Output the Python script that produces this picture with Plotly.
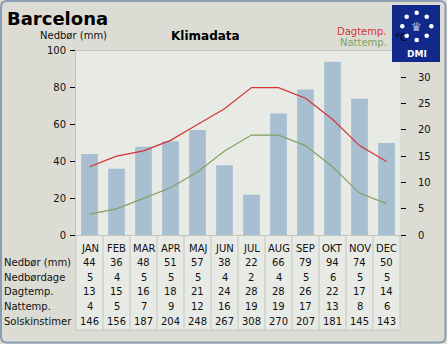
import plotly.graph_objects as go

W, H = 447, 344
months = ["JAN", "FEB", "MAR", "APR", "MAJ", "JUN", "JUL", "AUG", "SEP", "OKT", "NOV", "DEC"]
nedbor = [44, 36, 48, 51, 57, 38, 22, 66, 79, 94, 74, 50]
nedbordage = [5, 4, 5, 5, 5, 4, 2, 4, 5, 6, 5, 5]
dagtemp = [13, 15, 16, 18, 21, 24, 28, 28, 26, 22, 17, 14]
nattemp = [4, 5, 7, 9, 12, 16, 19, 19, 17, 13, 8, 6]
solskin = [146, 156, 187, 204, 248, 267, 308, 270, 207, 181, 145, 143]
row_labels = ["Nedbør (mm)", "Nedbørdage", "Dagtemp.", "Nattemp.", "Solskinstimer"]
left_ticks = [0, 20, 40, 60, 80, 100]
right_ticks = [0, 5, 10, 15, 20, 25, 30]

FONT = "DejaVu Sans"
BG = "#dcdcd4"
PLOT_BG = "#e8eae5"
GRID = "#c4c6bd"
RED = "#d43434"
GREEN = "#7fa262"
BAR = "#a8bfd2"


def px(x):
    return x / W


def py(y):
    return 1 - y / H


X0, X1 = 76, 400
Y_TOP, Y_BOT = 50.7, 235.3

fig = go.Figure()
fig.add_trace(go.Bar(x=months, y=nedbor, marker=dict(color=BAR, line=dict(width=0)),
                     width=0.62, yaxis="y", showlegend=False))
fig.add_trace(go.Scatter(x=months, y=dagtemp, mode="lines", line=dict(color=RED, width=1.2),
                         yaxis="y2", showlegend=False))
fig.add_trace(go.Scatter(x=months, y=nattemp, mode="lines", line=dict(color=GREEN, width=1.2),
                         yaxis="y2", showlegend=False))

shapes = []
annotations = []

# outer rounded border
r = 6
x0b, y0b, x1b, y1b = 1, 1, W - 1.5, H - 1.5
path = (f"M {px(x0b+r)},{py(y0b)} L {px(x1b-r)},{py(y0b)} Q {px(x1b)},{py(y0b)} {px(x1b)},{py(y0b+r)} "
        f"L {px(x1b)},{py(y1b-r)} Q {px(x1b)},{py(y1b)} {px(x1b-r)},{py(y1b)} "
        f"L {px(x0b+r)},{py(y1b)} Q {px(x0b)},{py(y1b)} {px(x0b)},{py(y1b-r)} "
        f"L {px(x0b)},{py(y0b+r)} Q {px(x0b)},{py(y0b)} {px(x0b+r)},{py(y0b)} Z")
shapes.append(dict(type="path", xref="paper", yref="paper", path=path,
                   line=dict(color="#8a9db3", width=2), layer="below"))

# table background
T_BOT = 330
shapes.append(dict(type="rect", xref="paper", yref="paper", x0=px(X0), x1=px(X1),
                   y0=py(T_BOT), y1=py(Y_BOT), fillcolor=PLOT_BG, line=dict(width=0), layer="below"))
colw = (X1 - X0) / 12
for i in range(13):
    xx = X0 + i * colw
    shapes.append(dict(type="line", xref="paper", yref="paper", x0=px(xx), x1=px(xx),
                       y0=py(T_BOT), y1=py(Y_BOT), line=dict(color=GRID, width=1)))
shapes.append(dict(type="line", xref="paper", yref="paper", x0=px(X0), x1=px(X1),
                   y0=py(T_BOT), y1=py(T_BOT), line=dict(color=GRID, width=1)))

# table text
row_y = [249, 262.5, 277, 291.7, 306.5, 321]
data_rows = [nedbor, nedbordage, dagtemp, nattemp, solskin]
for i, m in enumerate(months):
    annotations.append(dict(x=px(X0 + colw * (i + 0.5)), y=py(row_y[0]), xref="paper", yref="paper",
                            text=m, showarrow=False, xanchor="center", yanchor="middle",
                            font=dict(family=FONT, size=10, color="#111")))
for r_i, (lab, vals) in enumerate(zip(row_labels, data_rows)):
    yy = py(row_y[r_i + 1])
    annotations.append(dict(x=px(2), y=yy, xref="paper", yref="paper", text=lab, showarrow=False,
                            xanchor="left", yanchor="middle", font=dict(family=FONT, size=10, color="#111")))
    for i, v in enumerate(vals):
        annotations.append(dict(x=px(X0 + colw * (i + 0.5)), y=yy, xref="paper", yref="paper",
                                text=str(v), showarrow=False, xanchor="center", yanchor="middle",
                                font=dict(family=FONT, size=10, color="#111")))

# titles
annotations.append(dict(x=px(5), y=py(18.5), xref="paper", yref="paper", text="<b>Barcelona</b>",
                        showarrow=False, xanchor="left", yanchor="middle",
                        font=dict(family=FONT, size=18, color="#000")))
annotations.append(dict(x=px(205.5), y=py(36), xref="paper", yref="paper", text="<b>Klimadata</b>",
                        showarrow=False, xanchor="center", yanchor="middle",
                        font=dict(family=FONT, size=12, color="#000")))
annotations.append(dict(x=px(73.5), y=py(36), xref="paper", yref="paper", text="Nedbør (mm)",
                        showarrow=False, xanchor="center", yanchor="middle",
                        font=dict(family=FONT, size=10, color="#111")))
annotations.append(dict(x=px(389), y=py(31.5), xref="paper", yref="paper", text="Dagtemp.",
                        showarrow=False, xanchor="right", yanchor="middle",
                        font=dict(family=FONT, size=10, color=RED)))
annotations.append(dict(x=px(389), y=py(42.5), xref="paper", yref="paper", text="Nattemp.",
                        showarrow=False, xanchor="right", yanchor="middle",
                        font=dict(family=FONT, size=10, color=GREEN)))

# DMI logo
shapes.append(dict(type="rect", xref="paper", yref="paper", x0=px(392), x1=px(440), y0=py(62), y1=py(5),
                   fillcolor="#10298a", line=dict(width=0), layer="above"))
dots = [(406.7, 16.7), (416.7, 12.7), (426.7, 16.7), (402.3, 26.3), (431.3, 26.3),
        (406.7, 35.7), (416.7, 40), (426.7, 35.7)]
for (dx, dy) in dots:
    shapes.append(dict(type="circle", xref="paper", yref="paper", x0=px(dx - 2.3), x1=px(dx + 2.3),
                       y0=py(dy + 2.3), y1=py(dy - 2.3), fillcolor="white", line=dict(width=0),
                       layer="above"))
annotations.append(dict(x=px(416.7), y=py(26.5), xref="paper", yref="paper", text="♛",
                        showarrow=False, xanchor="center", yanchor="middle",
                        font=dict(family=FONT, size=12, color="#b9c6e6")))
annotations.append(dict(x=px(416.7), y=py(54), xref="paper", yref="paper", text="<b>DMI</b>",
                        showarrow=False, xanchor="center", yanchor="middle",
                        font=dict(family=FONT, size=9, color="white")))
annotations.append(dict(x=px(401), y=py(37.5), xref="paper", yref="paper", text="°C",
                        showarrow=False, xanchor="center", yanchor="middle",
                        font=dict(family=FONT, size=10, color="#000")))

fig.update_layout(
    width=W, height=H,
    margin=dict(l=0, r=0, t=0, b=0, pad=0, autoexpand=False),
    paper_bgcolor=BG, plot_bgcolor=PLOT_BG,
    font=dict(family=FONT, size=10, color="#111"),
    showlegend=False,
    bargap=0.38,
    xaxis=dict(domain=[px(X0), px(X1)], showticklabels=False, ticks="", showgrid=False,
               zeroline=False, showline=True, linecolor=GRID, mirror=True, fixedrange=True,
               automargin=False),
    yaxis=dict(domain=[py(Y_BOT), py(Y_TOP)], range=[0, 100], tickvals=left_ticks,
               ticks="outside", ticklen=5, tickcolor="#000", showgrid=False, zeroline=False,
               showline=True, linecolor=GRID, tickfont=dict(family=FONT, size=10, color="#111"),
               ticklabelstandoff=2, automargin=False),
    yaxis2=dict(overlaying="y", side="right", anchor="x", range=[0, 35], tickvals=right_ticks,
                ticks="outside", ticklen=5, tickcolor="#000", showgrid=False, zeroline=False,
                showline=False, tickfont=dict(family=FONT, size=10, color="#111"),
                ticklabelstandoff=10, automargin=False),
    shapes=shapes, annotations=annotations,
)

fig.write_html("out.html", config=dict(displayModeBar=False))
